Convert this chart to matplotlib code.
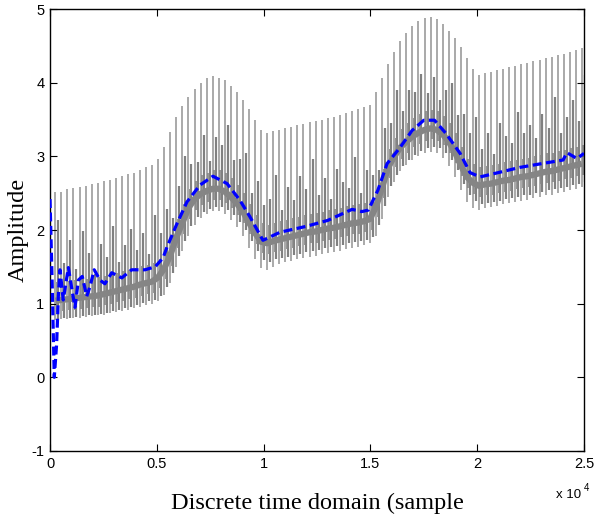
import numpy as np
import matplotlib
matplotlib.use("Agg")
import matplotlib.pyplot as plt

# measured signal: one spike every ~283 samples
spike_x = np.linspace(250, 24900, 88)

# centre of the dense grey band at each spike
band = [1.04, 1.05, 1.06, 1.07, 1.08, 1.09, 1.10, 1.11, 1.13, 1.15, 1.17,
        1.19, 1.21, 1.23, 1.26, 1.28, 1.30, 1.36, 1.48, 1.66, 1.90, 2.10,
        2.30, 2.42, 2.49, 2.53, 2.56, 2.56, 2.52, 2.45, 2.36, 2.25, 2.10,
        1.96, 1.84, 1.82, 1.85, 1.87, 1.89, 1.91, 1.93, 1.95, 1.97, 1.98,
        2.00, 2.02, 2.03, 2.05, 2.07, 2.09, 2.10, 2.12, 2.15, 2.32, 2.58,
        2.85, 3.00, 3.12, 3.20, 3.27, 3.32, 3.36, 3.38, 3.36, 3.30, 3.20,
        3.06, 2.88, 2.72, 2.64, 2.60, 2.62, 2.63, 2.65, 2.67, 2.68, 2.70,
        2.72, 2.73, 2.75, 2.77, 2.79, 2.80, 2.82, 2.84, 2.86, 2.88, 2.90]

# top of each tall spike
spike_top = [2.52, 2.52, 2.55, 2.57, 2.58, 2.60, 2.62, 2.64, 2.66, 2.68, 2.71,
             2.73, 2.76, 2.78, 2.82, 2.85, 2.88, 2.97, 3.13, 3.33, 3.54, 3.68,
             3.81, 3.91, 4.00, 4.06, 4.09, 4.07, 4.03, 3.96, 3.87, 3.76, 3.64,
             3.50, 3.36, 3.32, 3.34, 3.36, 3.38, 3.40, 3.42, 3.44, 3.46, 3.48,
             3.50, 3.52, 3.54, 3.56, 3.59, 3.62, 3.64, 3.67, 3.70, 3.88, 4.07,
             4.25, 4.42, 4.57, 4.68, 4.77, 4.84, 4.88, 4.89, 4.86, 4.80, 4.70,
             4.61, 4.48, 4.33, 4.19, 4.10, 4.13, 4.15, 4.17, 4.19, 4.21, 4.23,
             4.25, 4.27, 4.29, 4.31, 4.33, 4.35, 4.37, 4.39, 4.41, 4.44, 4.47]

# bottom of each spike
spike_low = [0.78, 0.79, 0.79, 0.80, 0.81, 0.82, 0.83, 0.84, 0.85, 0.87, 0.89,
             0.90, 0.92, 0.94, 0.96, 0.98, 1.00, 1.04, 1.12, 1.28, 1.50, 1.72,
             1.92, 2.07, 2.16, 2.22, 2.26, 2.26, 2.22, 2.14, 2.04, 1.92, 1.76,
             1.60, 1.48, 1.46, 1.50, 1.54, 1.56, 1.58, 1.60, 1.62, 1.64, 1.65,
             1.67, 1.69, 1.70, 1.72, 1.74, 1.76, 1.77, 1.79, 1.82, 1.92, 2.15,
             2.45, 2.65, 2.80, 2.88, 2.95, 3.00, 3.04, 3.06, 3.04, 2.98, 2.87,
             2.72, 2.54, 2.38, 2.30, 2.27, 2.30, 2.31, 2.33, 2.35, 2.36, 2.38,
             2.40, 2.41, 2.43, 2.45, 2.47, 2.48, 2.50, 2.52, 2.54, 2.56, 2.58]

# height of the shorter dark spikes above the band
med_rise = [1.10, 0.50, 0.80, 0.40, 0.90, 0.60, 0.30, 0.70, 0.50, 0.90, 0.40,
            0.60, 0.80, 0.50, 0.70, 0.40, 0.90, 0.60, 0.80, 0.50, 0.70, 0.90,
            0.60, 0.50, 0.80, 0.40, 0.70, 0.60, 0.90, 0.50, 0.60, 0.80, 0.40,
            0.70, 0.50, 0.60, 0.90, 0.40, 0.70, 0.50, 0.80, 0.60, 1.00, 0.50,
            0.70, 0.40, 0.80, 0.60, 0.50, 0.90, 0.40, 0.70, 0.60, 0.50, 0.80,
            0.60, 0.90, 0.50, 0.70, 0.60, 0.80, 0.50, 0.70, 0.40, 0.60, 0.80,
            0.50, 0.70, 0.60, 0.90, 0.50, 0.70, 0.40, 0.80, 0.60, 0.50, 0.90,
            0.60, 0.70, 0.50, 0.80, 0.60, 1.00, 0.50, 0.70, 0.90, 0.60, 1.20]

# estimated amplitude (blue dashed)
est_x = [0, 100, 200, 310, 390, 470, 620, 860, 1050, 1170, 1330, 1510, 1720,
         1870, 2070, 2340, 2570, 2890, 3360, 3820, 4450, 4920, 5290, 5480,
         5950, 6410, 7020, 7630, 8290, 8900, 9360, 9970, 10770, 12000, 13000,
         14140, 14600, 14900, 15350, 15780, 16390, 16950, 17500, 18000, 18540,
         19200, 19660, 20130, 21000, 22000, 23000, 24020, 24200, 24670, 25000]
est_y = [2.42, 1.30, 0.00, 0.45, 1.10, 1.46, 1.05, 1.49, 1.15, 0.95, 1.32, 1.37,
         1.10, 1.23, 1.46, 1.32, 1.27, 1.42, 1.35, 1.46, 1.46, 1.50, 1.62, 1.77,
         2.09, 2.38, 2.61, 2.73, 2.63, 2.40, 2.18, 1.86, 1.97, 2.05, 2.13,
         2.28, 2.25, 2.27, 2.54, 2.90, 3.12, 3.35, 3.49, 3.49, 3.31,
         3.04, 2.78, 2.72, 2.78, 2.85, 2.90, 2.95, 3.05, 2.97, 3.04]

xticks = [0, 5000, 10000, 15000, 20000, 25000]
xtick_labels = ["0", "0.5", "1", "1.5", "2", "2.5"]
yticks = [-1, 0, 1, 2, 3, 4, 5]
ytick_labels = ["-1", "0", "1", "2", "3", "4", "5"]

fig = plt.figure(figsize=(5.95, 5.25), dpi=100)
ax = fig.add_axes([50 / 595, 74 / 525, 534 / 595, 442 / 525])

band_arr = np.array(band)
ax.vlines(spike_x, spike_low, spike_top, color="#a3a3a3", lw=1.3, zorder=1)
ax.vlines(spike_x + 140, band_arr - 0.25, band_arr + np.array(med_rise),
          color="#808080", lw=1.6, zorder=2)
ax.vlines(spike_x + 70, band_arr - 0.15, band_arr + 0.25,
          color="#868686", lw=1.2, zorder=2)
ax.plot(spike_x, band, color="#858585", lw=4.5, solid_capstyle="butt", zorder=3)
ax.plot(est_x, est_y, color="#0000ff", lw=2.3, dashes=(2.8, 1.4), zorder=4)

ax.set_xlim(0, 25000)
ax.set_ylim(-1, 5)
ax.set_xticks(xticks)
ax.set_xticklabels(xtick_labels)
ax.set_yticks(yticks)
ax.set_yticklabels(ytick_labels)
ax.tick_params(direction="in", top=True, right=True, length=5, width=0.8,
               labelsize=10.5, pad=4)
for lab in ax.get_xticklabels() + ax.get_yticklabels():
    lab.set_fontfamily("Liberation Sans")
for sp in ax.spines.values():
    sp.set_linewidth(1.0)

ax.set_xlabel("Discrete time domain (sample", family="Liberation Serif",
              fontsize=17.5, labelpad=16)
ax.set_ylabel("Amplitude", family="Liberation Serif", fontsize=17.5, labelpad=2)

ax.text(0.995, -0.085, "x 10", transform=ax.transAxes, ha="right", va="top",
        family="Liberation Sans", fontsize=9.5)
ax.text(1.0, -0.072, "4", transform=ax.transAxes, ha="left", va="top",
        family="Liberation Sans", fontsize=7)

fig.savefig("out.png", dpi=100)
